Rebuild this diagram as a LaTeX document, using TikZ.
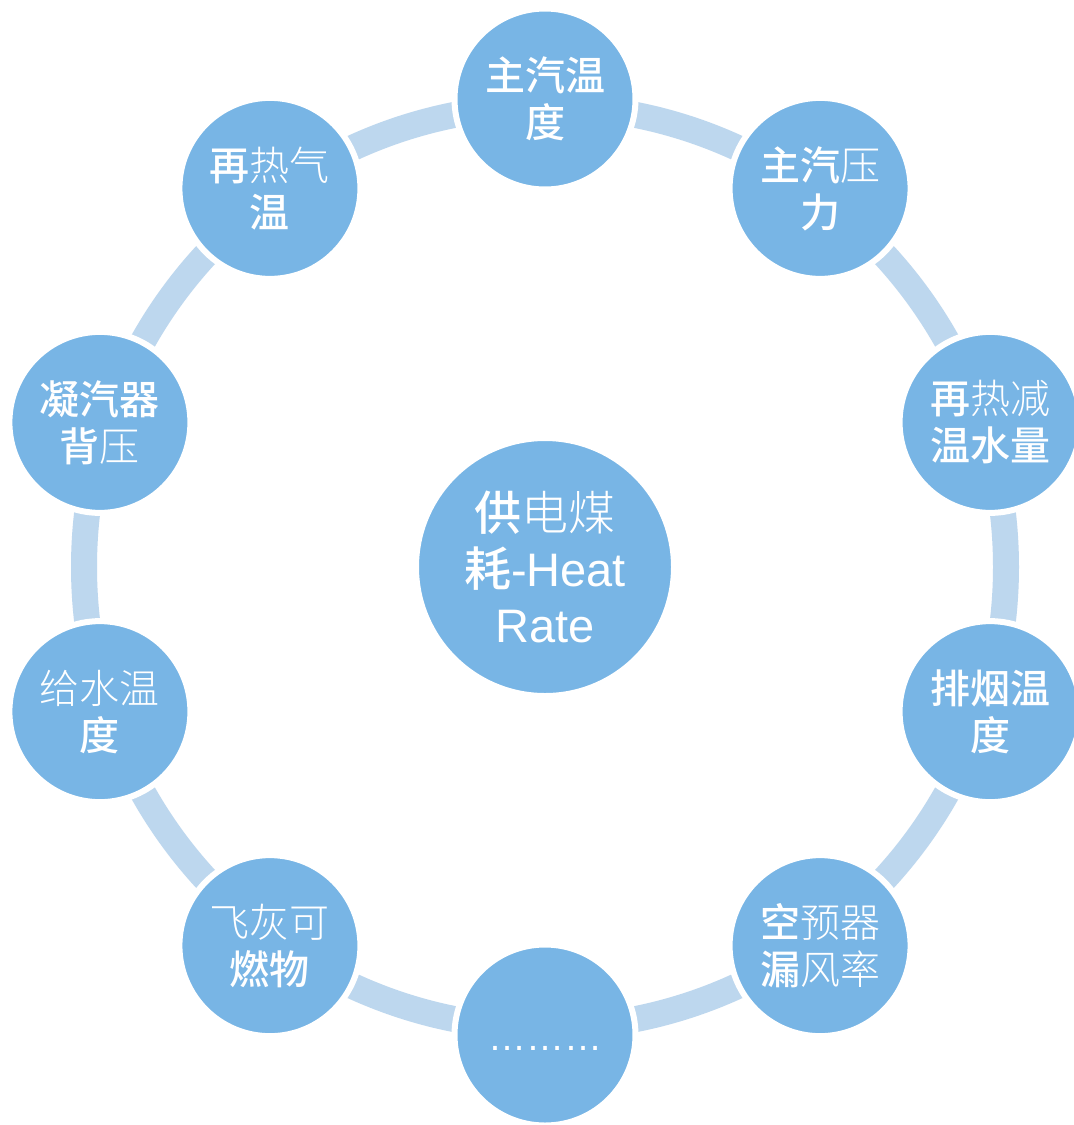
\documentclass[tikz,border=0pt]{standalone}
\usepackage{fontspec}
\usetikzlibrary{calc}
\setmainfont{Liberation Sans}
\newfontfamily\cjk{Noto Sans CJK SC}
\IfFontExistsTF{Noto Sans CJK SC Medium}{\newfontfamily\cjkmed{Noto Sans CJK SC Medium}}{\newfontfamily\cjkmed{Noto Sans CJK SC}}
\IfFontExistsTF{Noto Sans CJK SC Light}{\newfontfamily\cjkthin{Noto Sans CJK SC Light}}{\newfontfamily\cjkthin{Noto Sans CJK SC}}
\newcommand\tn[1]{{\cjkthin #1}}
\definecolor{ringc}{HTML}{BDD7EE}
\definecolor{nodec}{HTML}{78B5E5}
\begin{document}
\begin{tikzpicture}[x=1pt,y=1pt,
  outer/.style={circle, fill=nodec, draw=white, line width=6pt, minimum size=181pt,
    inner sep=0pt, text=white, align=center, font=\cjkmed\fontsize{40}{47}\selectfont},
  hub/.style={circle, fill=nodec, draw=white, line width=4pt, minimum size=256pt,
    inner sep=0pt, text=white, align=center, font=\fontsize{47}{56}\selectfont}]
\useasboundingbox (0,0) rectangle (1074,-1125);
\fill[white] (0,0) rectangle (1074,-1125);
\coordinate (c) at (545,-567);
\draw[ringc, line width=26pt] (c) circle (461);
\node[hub] (hubnode) at (c) {{\cjkmed 供}{\cjkthin 电煤}\\{\cjkmed 耗}-Heat\\Rate};
\node[outer] (n1) at ($(c)+(90:468)$) {主汽温\\度};
\node[outer] (n2) at ($(c)+(54:468)$) {主汽\tn{压}\\力};
\node[outer] (n3) at ($(c)+(18:468)$) {再\tn{热减}\\温水量};
\node[outer] (n4) at ($(c)+(-18:468)$) {排烟温\\度};
\node[outer] (n5) at ($(c)+(-54:468)$) {空\tn{预器}\\漏\tn{风率}};
\node[outer] (n6) at ($(c)+(-90:468)$) {\vphantom{度}{\rmfamily\fontsize{38}{47}\selectfont ………}};
\node[outer] (n7) at ($(c)+(-126:468)$) {\tn{飞灰可}\\燃物};
\node[outer] (n8) at ($(c)+(-162:468)$) {\tn{给水温}\\度};
\node[outer] (n9) at ($(c)+(162:468)$) {凝汽器\\背\tn{压}};
\node[outer] (n10) at ($(c)+(126:468)$) {再\tn{热气}\\温};
\end{tikzpicture}
\end{document}
